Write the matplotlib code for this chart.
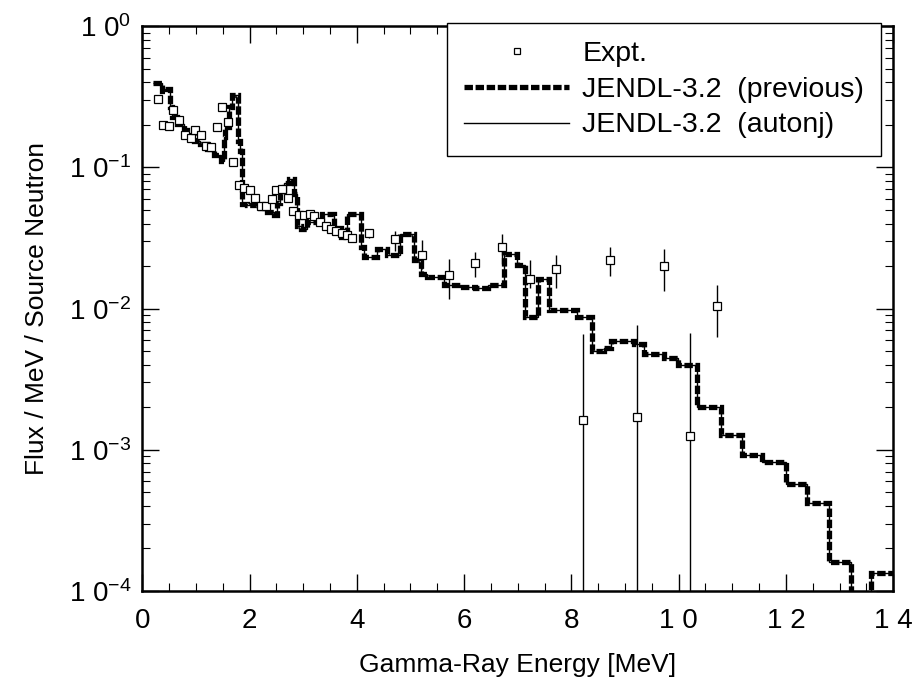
import numpy as np
import matplotlib
matplotlib.use("Agg")
import matplotlib.pyplot as plt
from matplotlib.ticker import FixedLocator, MultipleLocator, LogLocator, NullFormatter

plt.rcParams['font.family'] = ['Liberation Sans', 'DejaVu Sans']
plt.rcParams['mathtext.default'] = 'regular'

# calculated spectrum, JENDL-3.2 (histogram bin edges in MeV and flux per bin)
calc_edges = [0.20, 0.37, 0.43, 0.52, 0.55, 0.65, 0.77, 0.83, 0.96, 1.08,
              1.21, 1.33, 1.46, 1.52, 1.55, 1.61, 1.67, 1.78, 1.83, 1.86,
              1.95, 2.14, 2.33, 2.45, 2.51, 2.57, 2.64, 2.73, 2.82, 2.89,
              2.95, 3.07, 3.26, 3.35, 3.57, 3.70, 3.82, 4.07, 4.13, 4.38,
              4.57, 4.81, 5.06, 5.19, 5.31, 5.62, 5.93, 6.20, 6.45, 6.74,
              6.99, 7.13, 7.38, 7.58, 8.11, 8.39, 8.60, 8.73, 9.17, 9.35,
              9.73, 9.98, 10.35, 10.78, 11.19, 11.56, 12.00, 12.40, 12.81, 13.21,
              13.58, 14.00]
calc_prev = [0.396, 0.35, 0.36, 0.27, 0.227, 0.204, 0.183, 0.169, 0.155, 0.147,
             0.136, 0.122, 0.112, 0.164, 0.193, 0.268, 0.324, 0.155, 0.13, 0.0553,
             0.054, 0.052, 0.048, 0.046, 0.056, 0.066, 0.077, 0.083, 0.065, 0.0388,
             0.0367, 0.041, 0.044, 0.047, 0.037, 0.032, 0.047, 0.0272, 0.0231, 0.0265,
             0.024, 0.0339, 0.022, 0.0176, 0.0167, 0.0146, 0.0143, 0.0140, 0.0146, 0.0244,
             0.0205, 0.0087, 0.0162, 0.0097, 0.0087, 0.0050, 0.0053, 0.0059, 0.0056, 0.0048,
             0.0045, 0.0040, 0.0020, 0.00128, 0.00092, 0.00082, 0.00057, 0.00042, 0.00016, 0.00006,
             0.000133]
calc_autonj = calc_prev  # both curves coincide on the plot

# measured points without visible error bars
expt_e = [0.29, 0.39, 0.49, 0.58, 0.69, 0.80, 0.90, 0.99, 1.10, 1.19,
          1.29, 1.39, 1.49, 1.59, 1.70, 1.80, 1.90, 2.00, 2.11, 2.21,
          2.31, 2.41, 2.50, 2.61, 2.71, 2.81, 2.92, 3.01, 3.12, 3.21,
          3.31, 3.43, 3.52, 3.62, 3.73, 3.82, 3.91]
expt_v = [0.305, 0.199, 0.196, 0.254, 0.216, 0.169, 0.161, 0.183, 0.171, 0.143,
          0.139, 0.193, 0.268, 0.21, 0.109, 0.0754, 0.0718, 0.069, 0.0606, 0.0535,
          0.053, 0.060, 0.069, 0.070, 0.061, 0.049, 0.0457, 0.0457, 0.0465, 0.045,
          0.0414, 0.0387, 0.0367, 0.0352, 0.0343, 0.0334, 0.0317]

# measured points with error bars (lower / upper ends)
bar_e = [4.22, 4.72, 5.22, 5.72, 6.21, 6.71, 7.23, 7.72, 8.22, 8.72, 9.22, 9.73, 10.22, 10.72]
bar_v = [0.0342, 0.0312, 0.0241, 0.0173, 0.0211, 0.0275, 0.0162, 0.0191, 0.00163, 0.0221,
         0.0017, 0.0199, 0.00126, 0.0105]
bar_lo = [0.0317, 0.0258, 0.0191, 0.0117, 0.0167, 0.0206, 0.0141, 0.0139, 1e-5, 0.0171,
          1e-5, 0.0134, 1e-5, 0.0063]
bar_hi = [0.0368, 0.0357, 0.0304, 0.0225, 0.0250, 0.0339, 0.0221, 0.0240, 0.0066, 0.0272,
          0.0076, 0.0264, 0.0067, 0.0147]

fig = plt.figure(figsize=(9.18, 6.92), dpi=100)
ax = fig.add_axes([0.155, 0.146, 0.818, 0.816])

ax.vlines(bar_e, bar_lo, bar_hi, color='black', lw=1.0, zorder=2)

ax.stairs(calc_prev, calc_edges, baseline=None, color='black', lw=3.8,
          linestyle=(0, (1.6, 0.5)), label='JENDL-3.2  (previous)', zorder=3)
ax.stairs(calc_autonj, calc_edges, baseline=None, color='black', lw=1.0,
          label='JENDL-3.2  (autonj)', zorder=4)

ax.plot(expt_e + bar_e, expt_v + bar_v, ls='none', marker='s', ms=5.5, mfc='white',
        mec='black', mew=0.9, label='Expt.', zorder=5)

ax.set_yscale('log')
ax.set_xlim(0, 14)
ax.set_ylim(1e-4, 1)

ax.xaxis.set_major_locator(FixedLocator(range(0, 15, 2)))
ax.set_xticklabels(['0', '2', '4', '6', '8', '1 0', '1 2', '1 4'])
ax.xaxis.set_minor_locator(MultipleLocator(0.5))
ax.set_yticks([1e-4, 1e-3, 1e-2, 1e-1, 1])
ax.set_yticklabels(['1 0$^{-4}$', '1 0$^{-3}$', '1 0$^{-2}$', '1 0$^{-1}$', '1 0$^{0}$'])
ax.yaxis.set_minor_locator(LogLocator(base=10, subs=np.arange(2, 10)))
ax.yaxis.set_minor_formatter(NullFormatter())

ax.tick_params(which='both', direction='in', top=True, right=True, labelsize=20)
ax.tick_params(which='major', length=12, width=1.0)
ax.tick_params(axis='x', which='major', pad=12)
ax.tick_params(axis='y', which='major', pad=8)
ax.tick_params(which='minor', length=6, width=0.8)
for s in ax.spines.values():
    s.set_linewidth(1.8)

ax.set_xlabel('Gamma-Ray Energy [MeV]', fontsize=19, labelpad=14)
ax.set_ylabel('Flux / MeV / Source Neutron', fontsize=19, labelpad=14)

h, l = ax.get_legend_handles_labels()
order = [2, 0, 1]
leg = ax.legend([h[i] for i in order], [l[i] for i in order], loc='upper right',
                bbox_to_anchor=(0.984, 1.005), borderaxespad=0, fontsize=20.5,
                frameon=True, fancybox=False, framealpha=1, edgecolor='black',
                handlelength=3.7, handletextpad=0.45, borderpad=0.6,
                labelspacing=0.35, markerscale=0.8)
leg.get_frame().set_linewidth(1.0)

plt.savefig('out.png', dpi=100)
